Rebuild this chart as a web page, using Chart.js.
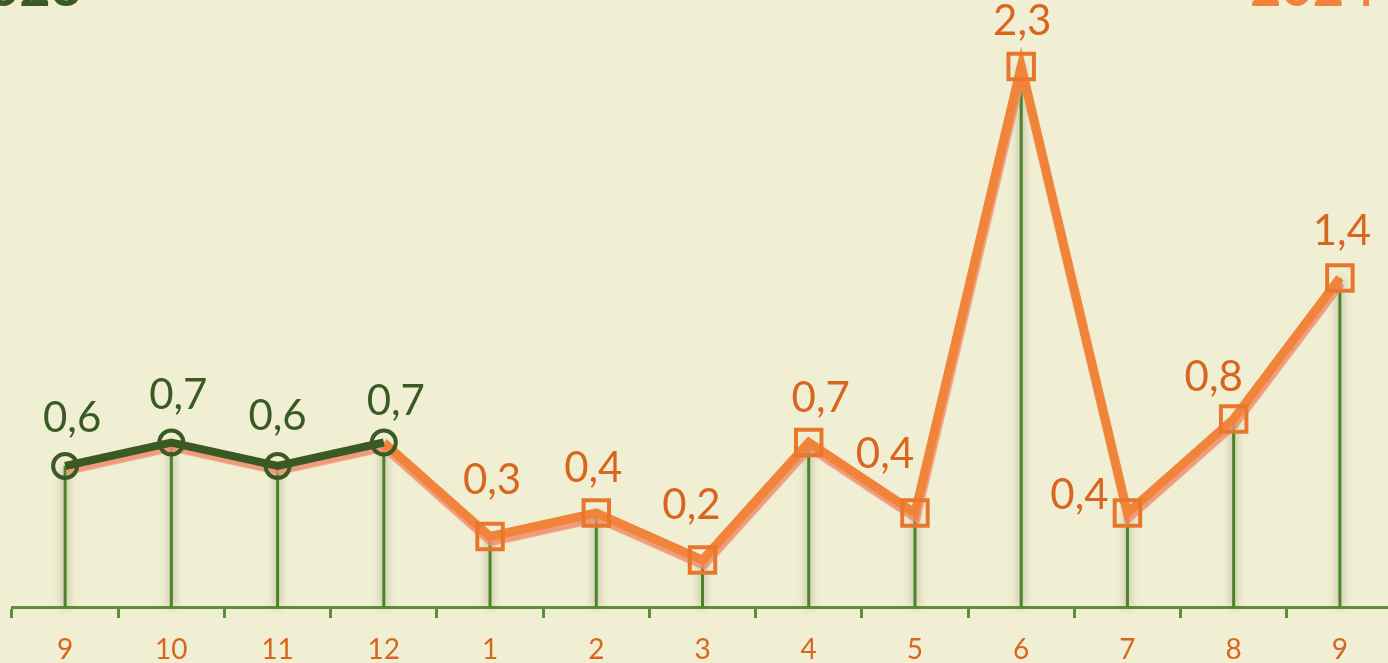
<!DOCTYPE html>
<html lang="en">
<head>
    <meta charset="UTF-8">
    <title>2023 - 2024</title>
    <script src="https://cdn.jsdelivr.net/npm/chart.js"></script>
    <style>
        html, body { margin: 0; padding: 0; background: #f1efd3; overflow: hidden; }
        #wrap { width: 1410px; height: 663px; }
    </style>
</head>
<body>
    <div id="wrap"><canvas id="chart" width="1410" height="663"></canvas></div>

    <script>
        // months, Sep 2023 .. Sep 2024
        const months = ['9', '10', '11', '12', '1', '2', '3', '4', '5', '6', '7', '8', '9'];
        const values2023 = [0.6, 0.7, 0.6, 0.7];
        const values2024 = [0.3, 0.4, 0.2, 0.7, 0.4, 2.3, 0.4, 0.8, 1.4];
        const yearLabels = ['2023', '2024'];

        const green = '#3b5a23';
        const orange = '#f0843a';
        const orangeText = '#d8661e';
        const stemGreen = '#4a8429';

        // label nudges (dx, dy) from the point
        const labelNudge = [
            [7, -48], [7, -47], [0, -50], [12, -41],
            [2, -56], [-3, -45], [-11, -55], [12, -44], [-30, -59],
            [1, -45], [-48, -18], [-20, -42], [2, -47]
        ];

        const n2023 = values2023.length;
        const line2023 = months.map((m, i) => i < n2023 ? values2023[i] : null);
        // 2024 line starts from last 2023 point so the two parts connect
        const line2024 = months.map((m, i) => {
            if (i === n2023 - 1) return values2023[n2023 - 1];
            if (i >= n2023) return values2024[i - n2023];
            return null;
        });
        const pts2024 = months.map((m, i) => i >= n2023 ? values2024[i - n2023] : null);
        const allValues = values2023.concat(values2024);

        const fmt = v => v.toFixed(1).replace('.', ',');

        const stemsPlugin = {
            id: 'stems',
            beforeDatasetsDraw(chart) {
                const ctx = chart.ctx;
                const x = chart.scales.x, y = chart.scales.y;
                ctx.save();
                ctx.shadowColor = 'rgba(80,80,50,0.6)';
                ctx.shadowBlur = 8;
                ctx.strokeStyle = stemGreen;
                ctx.lineWidth = 3;
                allValues.forEach((v, i) => {
                    const px = x.getPixelForValue(i);
                    ctx.beginPath();
                    ctx.moveTo(px, y.getPixelForValue(v));
                    ctx.lineTo(px, y.getPixelForValue(0));
                    ctx.stroke();
                });
                ctx.restore();
            }
        };

        const shadowPlugin = {
            id: 'lineShadow',
            beforeDatasetDraw(chart, args) {
                const ds = chart.data.datasets[args.index];
                if (!ds.shadowed) return;
                const ctx = chart.ctx;
                ctx.save();
                ctx.shadowColor = 'rgba(240,140,110,0.85)';
                ctx.shadowOffsetX = 1;
                ctx.shadowOffsetY = 5;
                ctx.shadowBlur = 1;
            },
            afterDatasetDraw(chart, args) {
                const ds = chart.data.datasets[args.index];
                if (!ds.shadowed) return;
                chart.ctx.restore();
            }
        };

        const labelsPlugin = {
            id: 'valueLabels',
            afterDatasetsDraw(chart) {
                const ctx = chart.ctx;
                const x = chart.scales.x, y = chart.scales.y;
                ctx.save();
                ctx.font = '42px Lato, "Noto Sans", sans-serif';
                ctx.textAlign = 'center';
                ctx.textBaseline = 'middle';
                allValues.forEach((v, i) => {
                    const [dx, dy] = labelNudge[i];
                    ctx.fillStyle = i < n2023 ? green : orangeText;
                    ctx.fillText(fmt(v), x.getPixelForValue(i) + dx, y.getPixelForValue(v) + dy);
                });
                // year headings, partly above the canvas
                ctx.font = 'bold 54px Lato, "Noto Sans", sans-serif';
                ctx.textBaseline = 'alphabetic';
                ctx.textAlign = 'right';
                ctx.fillStyle = green;
                ctx.fillText(yearLabels[0], 82, 6);
                ctx.textAlign = 'left';
                ctx.fillStyle = orange;
                ctx.fillText(yearLabels[1], 1250, 6);
                ctx.restore();
            }
        };

        new Chart(document.getElementById('chart'), {
            type: 'line',
            data: {
                labels: months,
                datasets: [
                    {
                        data: line2024, borderColor: orange, borderWidth: 9,
                        pointRadius: 0, spanGaps: false, shadowed: true, order: 4
                    },
                    {
                        data: line2023, borderColor: green, borderWidth: 8,
                        pointRadius: 0, shadowed: true, order: 3
                    },
                    {
                        data: line2023, showLine: false, pointStyle: 'circle', pointRadius: 12,
                        pointBorderWidth: 4, pointBorderColor: green, pointBackgroundColor: 'rgba(0,0,0,0)', order: 2
                    },
                    {
                        data: pts2024, showLine: false, pointStyle: 'rect', pointRadius: 18,
                        pointBorderWidth: 4, pointBorderColor: '#e8772c', pointBackgroundColor: 'rgba(0,0,0,0)', order: 1
                    }
                ]
            },
            options: {
                responsive: false,
                animation: false,
                clip: false,
                layout: { autoPadding: false, padding: { left: 12, right: 17, top: 0, bottom: 0 } },
                plugins: { legend: { display: false }, tooltip: { enabled: false } },
                scales: {
                    x: {
                        offset: true,
                        afterFit: s => { s.height = 56; s.paddingLeft = 0; s.paddingRight = 0; },
                        grid: {
                            offset: true, drawOnChartArea: false, drawTicks: true,
                            tickLength: 11, color: '#5e8f3a', lineWidth: 3
                        },
                        border: { display: true, color: '#5e8f3a', width: 3 },
                        ticks: {
                            color: orangeText, padding: 15,
                            font: { size: 28, family: 'Lato, "Noto Sans", sans-serif' }
                        }
                    },
                    y: { display: false, min: 0, max: 607 / 235 }
                }
            },
            plugins: [stemsPlugin, shadowPlugin, labelsPlugin]
        });
    </script>
</body>
</html>
